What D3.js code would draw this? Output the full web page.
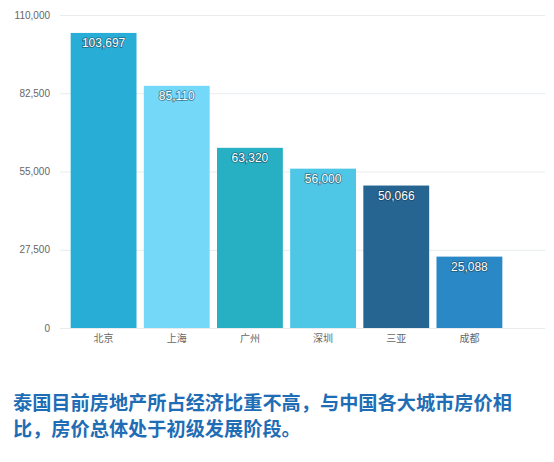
<!DOCTYPE html>
<html>
<head>
<meta charset="utf-8">
<script src="https://cdn.jsdelivr.net/npm/d3@7"></script>
<style>
    body { margin: 0; background: #fff; }
    .valueLabel {
        fill: #fff;
        font-family: "Liberation Sans", Arial, sans-serif;
        font-size: 12px;
        paint-order: stroke;
        stroke: rgba(20, 50, 70, 0.55);
        stroke-width: 1.6px;
    }
    .tick text { fill: #666; }
</style>
</head>
<body>
<div id="chart"></div>
<script>
var svgWidth = 554;
var svgHeight = 462;

// data
var cities = ['北京', '上海', '广州', '深圳', '三亚', '成都'];
var prices = [103697, 85110, 63320, 56000, 50066, 25088];
var barColors = ['#28add6', '#74d8f8', '#27b0c4', '#4ec7e7', '#266491', '#2a88c6'];
var yTicks = [0, 27500, 55000, 82500, 110000];
var caption = ['泰国目前房地产所占经济比重不高，与中国各大城市房价相', '比，房价总体处于初级发展阶段。'];

var plot = { left: 60, right: 545, top: 15, bottom: 328 };

var svg = d3.select('#chart')
    .append('svg')
    .attr('width', svgWidth)
    .attr('height', svgHeight);

var xScale = d3.scaleBand()
    .domain(cities)
    .range([67, 506])
    .paddingInner(0.1)
    .paddingOuter(0.05);

var yScale = d3.scaleLinear()
    .domain([0, 110000])
    .range([plot.bottom, plot.top]);

// gridlines
svg.append('g')
    .selectAll('line')
    .data(yTicks)
    .enter()
    .append('line')
    .attr('x1', plot.left)
    .attr('x2', plot.right)
    .attr('y1', d => yScale(d) + 0.5)
    .attr('y2', d => yScale(d) + 0.5)
    .attr('stroke', '#e8ecef')
    .attr('stroke-width', 1);

// y axis labels
var leftAxis = d3.axisLeft(yScale)
    .tickValues(yTicks)
    .tickFormat(d3.format(','))
    .tickSize(0)
    .tickPadding(0);

var yAxis = svg.append('g')
    .attr('transform', 'translate(50, 0)')
    .call(leftAxis);
yAxis.select('.domain').remove();
yAxis.selectAll('text')
    .attr('font-family', '"Liberation Sans", Arial, sans-serif')
    .attr('font-size', '10px');

// bars
svg.selectAll('.bar')
    .data(prices)
    .enter()
    .append('rect')
    .attr('class', 'bar')
    .attr('x', (d, i) => xScale(cities[i]))
    .attr('y', d => yScale(d))
    .attr('width', xScale.bandwidth())
    .attr('height', d => plot.bottom - yScale(d))
    .attr('fill', (d, i) => barColors[i]);

// value labels inside bars
svg.selectAll('.valueLabel')
    .data(prices)
    .enter()
    .append('text')
    .attr('class', 'valueLabel')
    .attr('x', (d, i) => xScale(cities[i]) + xScale.bandwidth() / 2)
    .attr('y', d => yScale(d) + 14)
    .attr('text-anchor', 'middle')
    .text(d => d3.format(',')(d));

// x axis labels
var bottomAxis = d3.axisBottom(xScale)
    .tickSize(0)
    .tickPadding(7);

var xAxis = svg.append('g')
    .attr('transform', `translate(0, ${plot.bottom})`)
    .call(bottomAxis);
xAxis.select('.domain').remove();
xAxis.selectAll('text')
    .attr('font-family', '"Noto Sans CJK SC", sans-serif')
    .attr('font-size', '10px');

// caption
svg.append('g')
    .selectAll('text')
    .data(caption)
    .enter()
    .append('text')
    .attr('x', 13)
    .attr('y', (d, i) => 410 + i * 26)
    .attr('font-family', '"Noto Sans CJK SC", sans-serif')
    .attr('font-weight', 'bold')
    .attr('font-size', '19.2px')
    .attr('fill', '#1f6db5')
    .text(d => d);
</script>
</body>
</html>
